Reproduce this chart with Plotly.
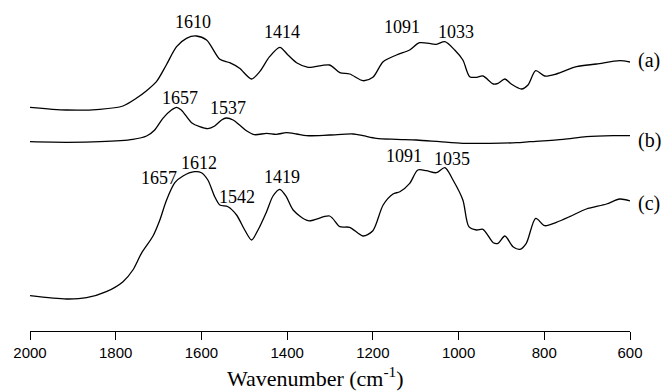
import plotly.graph_objects as go

# Spectrum (a)
wn_a = [2000, 1915, 1837, 1783, 1752, 1728, 1705, 1682, 1658, 1635, 1612, 1588, 1557, 1534,
        1511, 1483, 1464, 1441, 1417, 1398, 1378, 1351, 1301, 1277, 1254, 1223, 1200, 1176,
        1145, 1114, 1091, 1052, 1032, 1009, 990, 974, 958, 943, 919, 908, 892, 877, 853, 838,
        820, 799, 772, 725, 678, 624, 600]
abs_a = [223.7, 221, 221.7, 225, 232.7, 240.3, 249.3, 266, 284.3, 292.7, 295, 291, 271.7, 268.3,
         262.7, 252, 259.3, 274.3, 283.7, 276, 268.3, 263.7, 266, 258.3, 257, 250.3, 253.7, 269.3,
         276, 281, 288.3, 286.7, 289.3, 281, 271, 254.3, 253.7, 255, 247, 247.7, 252, 247, 242, 246,
         260.3, 255, 257, 264.3, 267, 270.3, 269]

# Spectrum (b)
wn_b = [2000, 1915, 1837, 1760, 1728, 1709, 1690, 1670, 1658, 1647, 1623, 1604, 1585, 1569,
        1553, 1542, 1526, 1511, 1495, 1476, 1448, 1425, 1402, 1378, 1355, 1301, 1246, 1223,
        1192, 1145, 1098, 1044, 990, 927, 865, 834, 756, 702, 639, 600]
abs_b = [189.3, 188.7, 189.3, 191.7, 195, 201, 212.7, 221, 223.7, 221, 208.3, 204.3, 202.3, 205,
         211, 213, 211, 206, 200.3, 196.3, 197.7, 196.7, 198.3, 197, 195.3, 196, 197, 195.3,
         192.7, 191.7, 191, 189.3, 187.7, 187.7, 188.3, 189.3, 191.7, 194.3, 195.3, 195.3]

# Spectrum (c)
wn_c = [2000, 1915, 1868, 1822, 1783, 1760, 1740, 1713, 1697, 1682, 1662, 1643, 1616, 1600,
        1585, 1569, 1557, 1538, 1518, 1499, 1483, 1468, 1448, 1433, 1417, 1402, 1386, 1351,
        1301, 1277, 1254, 1223, 1200, 1176, 1153, 1137, 1114, 1095, 1075, 1052, 1032, 1013,
        990, 976, 958, 943, 919, 908, 892, 873, 857, 842, 820, 799, 772, 741, 702, 655, 624, 600]
abs_c = [35.3, 32, 33.3, 39.3, 49.3, 61, 77.7, 95, 111, 130.3, 148.3, 155, 159.3, 158.3,
         151, 134.3, 126, 124.3, 116, 101, 91, 101, 119.3, 135, 141.7, 134.3, 121, 110.3,
         115, 104.3, 103.7, 95, 100.3, 126, 137, 139.3, 147.7, 161, 160.3, 158.3, 163.3, 151,
         131, 104.3, 101, 101.7, 88.3, 87.7, 95, 84.3, 81.7, 87.7, 112.7, 105.3, 108.7, 114.3,
         122, 127, 132, 130]

# Peak labels
peak_text = ["1610", "1414", "1091", "1033",
             "1657", "1537",
             "1657", "1612", "1542", "1419", "1091", "1035"]
peak_x = [1620, 1411, 1132, 1007,
          1651, 1539,
          1699, 1606, 1518, 1413, 1128, 1015]
peak_y = [309.3, 298.7, 303.7, 298.7,
          232.7, 222.7,
          152.7, 168.3, 134.3, 154.3, 175, 171.7]

series_labels = ["(a)", "(b)", "(c)"]
series_label_y = [271, 191, 127.7]

tick_vals = [2000, 1800, 1600, 1400, 1200, 1000, 800, 600]
x_title = "Wavenumber (cm<sup>-1</sup>)"

fig = go.Figure()
for wn, ab in [(wn_a, abs_a), (wn_b, abs_b), (wn_c, abs_c)]:
    fig.add_trace(go.Scatter(x=wn, y=ab, mode="lines",
                             line=dict(color="black", width=1.3, shape="spline", smoothing=0.8),
                             showlegend=False, hoverinfo="skip"))

serif = "Liberation Serif, Times New Roman, serif"
annotations = []
for t, x, y in zip(peak_text, peak_x, peak_y):
    annotations.append(dict(x=x, y=y, xref="x", yref="y", text=t, showarrow=False,
                            font=dict(family=serif, size=18, color="black"),
                            xanchor="center", yanchor="middle"))
for t, y in zip(series_labels, series_label_y):
    annotations.append(dict(x=1.01, y=y, xref="paper", yref="y", text=t, showarrow=False,
                            font=dict(family=serif, size=20, color="black"),
                            xanchor="left", yanchor="middle"))
annotations.append(dict(x=0.475, y=-0.14, xref="paper", yref="paper", text=x_title,
                        showarrow=False, font=dict(family=serif, size=22, color="black"),
                        xanchor="center", yanchor="middle"))

fig.update_layout(
    width=667, height=391,
    margin=dict(l=30, r=37, t=0, b=60),
    paper_bgcolor="white", plot_bgcolor="white",
    annotations=annotations,
    xaxis=dict(range=[2000, 600], tickvals=tick_vals,
               ticktext=[str(v) for v in tick_vals],
               showline=True, linecolor="black", linewidth=1.3,
               ticks="outside", ticklen=8, tickwidth=1.3, tickcolor="black",
               showgrid=False, zeroline=False,
               tickfont=dict(family="Liberation Sans, Arial, sans-serif", size=15, color="black")),
    yaxis=dict(range=[0, 331], visible=False, showgrid=False, zeroline=False),
)

fig.write_html("out.html")
